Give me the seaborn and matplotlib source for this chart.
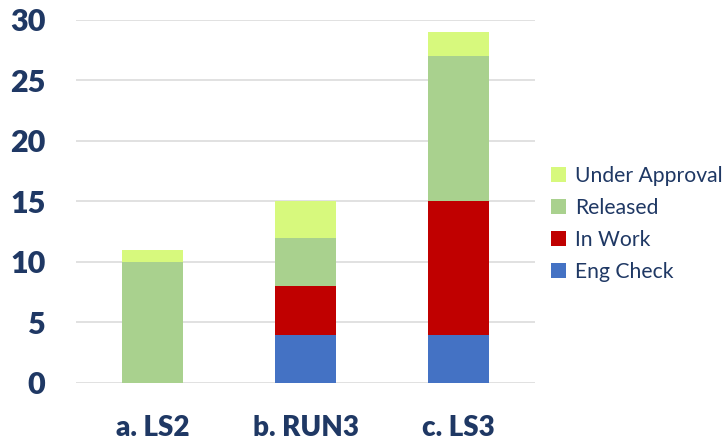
import matplotlib
matplotlib.use("Agg")
import matplotlib.pyplot as plt
from matplotlib.patches import Patch
import numpy as np
import pandas as pd
import seaborn as sns

categories = ["a. LS2", "b. RUN3", "c. LS3"]
eng_check = [0, 4, 4]
in_work = [0, 4, 11]
released = [10, 4, 12]
under_approval = [1, 3, 2]

series_names = ["Eng Check", "In Work", "Released", "Under Approval"]
series_values = [eng_check, in_work, released, under_approval]
colors = {
    "Eng Check": "#4472C4",
    "In Work": "#C00000",
    "Released": "#A9D18E",
    "Under Approval": "#D7F97D",
}
navy = "#1F3864"

sns.set_theme(style="white")
plt.rcParams["font.family"] = ["Lato", "DejaVu Sans"]

# cumulative heights so each layer sits on the ones below
df = pd.DataFrame({"category": categories})
running = np.zeros(len(categories))
for name, vals in zip(series_names, series_values):
    running = running + np.array(vals, dtype=float)
    df[name] = running.copy()

fig = plt.figure(figsize=(7.26, 4.44), dpi=100)
ax = fig.add_axes([0.1047, 0.1374, 0.6322, 0.8176])

# draw the tallest stack first, lower layers on top of it
for name in reversed(series_names):
    sns.barplot(data=df, x="category", y=name, color=colors[name],
                width=0.4, saturation=1, ax=ax, linewidth=0, zorder=3)

ax.set_ylim(0, 30)
ax.set_xlim(-0.5, 2.5)
ax.set_yticks(range(0, 31, 5))
ax.yaxis.grid(True, color="#D9D9D9", linewidth=1.1, zorder=0)
ax.xaxis.grid(False)
ax.set_axisbelow(True)
for s in ax.spines.values():
    s.set_visible(False)
ax.set_xlabel("")
ax.set_ylabel("")
ax.tick_params(axis="y", length=0, pad=22, labelsize=22, labelcolor=navy)
ax.tick_params(axis="x", length=0, pad=23, labelsize=20, labelcolor=navy)
for lbl in ax.get_xticklabels() + ax.get_yticklabels():
    lbl.set_fontweight("heavy")

handles = [Patch(facecolor=colors[n], edgecolor="none") for n in reversed(series_names)]
leg = fig.legend(handles, list(reversed(series_names)), loc="center left",
                 bbox_to_anchor=(0.748, 0.495), frameon=False, fontsize=15.2,
                 handlelength=0.7, handleheight=0.7, handletextpad=0.4,
                 labelspacing=0.57, borderaxespad=0)
for t in leg.get_texts():
    t.set_color(navy)

fig.savefig("out.png", dpi=100)
